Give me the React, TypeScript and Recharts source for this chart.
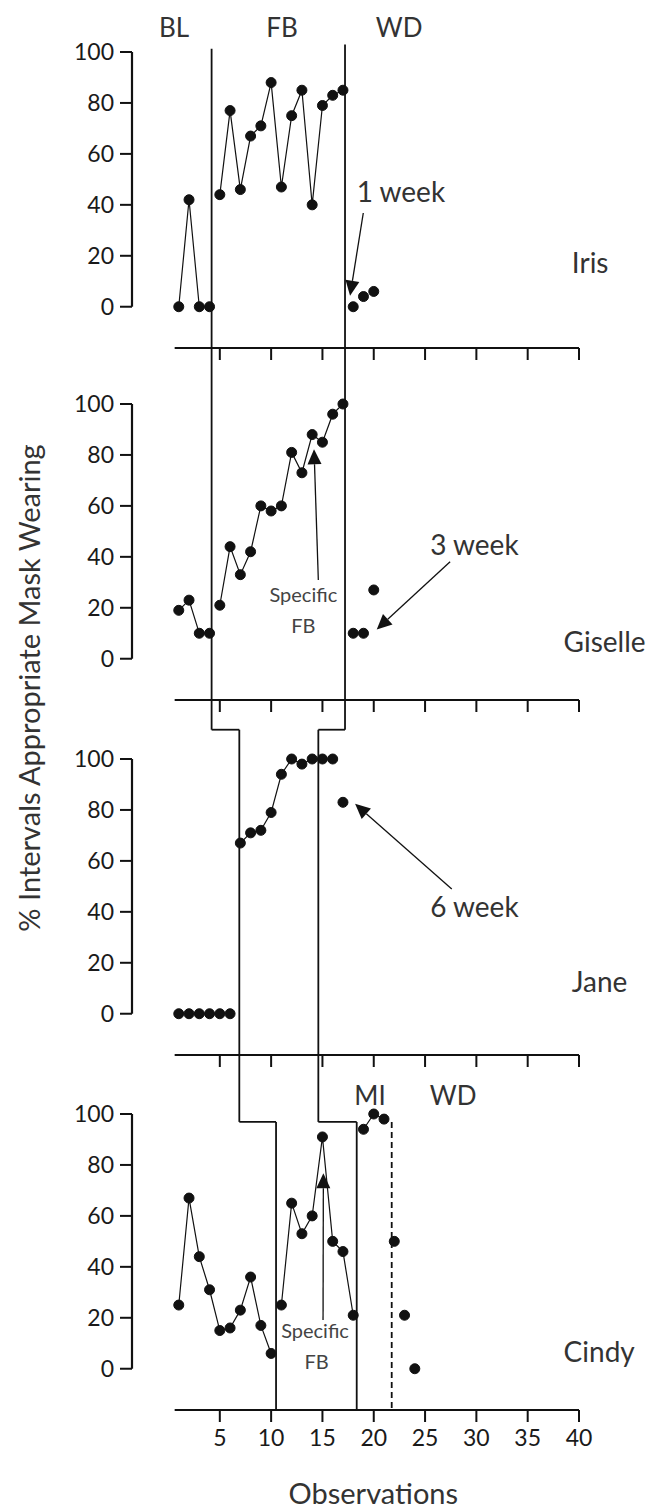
import { LineChart, Line, XAxis, YAxis, ReferenceLine, ReferenceDot } from "recharts";

const FONT = "Lato, 'Noto Sans', sans-serif";
const INK = "#111";

// values per phase, first observation number of each phase
const irisBL = [0, 42, 0, 0];
const irisFB = [44, 77, 46, 67, 71, 88, 47, 75, 85, 40, 79, 83, 85];
const irisWD = [0, 4, 6];

const giselleBL = [19, 23, 10, 10];
const giselleFB = [21, 44, 33, 42, 60, 58, 60, 81, 73, 88, 85, 96, 100];
const giselleWD = [10, 10, 27];

const janeBL = [0, 0, 0, 0, 0, 0];
const janeFB = [67, 71, 72, 79, 94, 100, 98, 100, 100, 100];
const janeWD = [83];

const cindyBL = [25, 67, 44, 31, 15, 16, 23, 36, 17, 6];
const cindyFB = [25, 65, 53, 60, 91, 50, 46, 21];
const cindyMI = [94, 100, 98];
const cindyWD = [50, 21, 0];

const xTicks = [5, 10, 15, 20, 25, 30, 35, 40];
const yTicks = [0, 20, 40, 60, 80, 100];

// layout
const W = 652;
const PLOT_LEFT = 132;
const PLOT_W = 447;
const TICK_LEN = 12;
const PLOT_H = 296 + TICK_LEN; // plot includes the x tick marks
const X_MIN = -3.557;
const X_AXIS_START = 0.6;
const Y_MIN = -16.2; // where the x axis line sits
const Y_PER_PX = (100 - Y_MIN) / 296;
const Y_LOW = Y_MIN - TICK_LEN * Y_PER_PX; // bottom of the tick marks
const CUTS = [0, 376, 715, 1072, 1509];
const PLOT_TOP = [52, 404, 759, 1114];

const pts = (vals: number[], first: number) => vals.map((v, i) => ({ obs: first + i, pct: v }));

type Seg = [number, number][];
type Txt = { x: number; y: number; text: string; size: number; anchor?: string; color?: string };
type Arr = { from: [number, number]; to: [number, number] };

function Arrow(p: any) {
  const x1 = Number(p.x1);
  const y1 = Number(p.y1);
  const x2 = Number(p.x2);
  const y2 = Number(p.y2);
  const a = Math.atan2(y2 - y1, x2 - x1);
  const len = 15;
  const half = 7;
  const bx = x2 - len * Math.cos(a);
  const by = y2 - len * Math.sin(a);
  const px = -Math.sin(a) * half;
  const py = Math.cos(a) * half;
  return (
    <g>
      <line x1={x1} y1={y1} x2={bx} y2={by} stroke={INK} strokeWidth={1.3} />
      <polygon points={`${x2},${y2} ${bx + px},${by + py} ${bx - px},${by - py}`} fill={INK} />
    </g>
  );
}

function Panel(props: {
  i: number;
  series: { data: { obs: number; pct: number }[]; joined: boolean }[];
  phases: (top: number, bot: number) => { pts: Seg; dashed?: boolean }[];
  texts: Txt[];
  arrows: Arr[];
  bottomAxis?: boolean;
}) {
  const { i, series, phases, texts, arrows, bottomAxis } = props;
  const h = CUTS[i + 1] - CUTS[i];
  const mt = PLOT_TOP[i] - CUTS[i];
  const xh = bottomAxis ? 50 : 0;
  const mb = h - mt - PLOT_H - xh;
  const topEdge = 100 + mt * Y_PER_PX;
  const botEdge = Y_LOW - (h - mt - PLOT_H) * Y_PER_PX;

  const segs: { a: [number, number]; b: [number, number]; dashed?: boolean }[] = [];
  phases(topEdge, botEdge).forEach((p) => {
    for (let k = 0; k < p.pts.length - 1; k++) segs.push({ a: p.pts[k], b: p.pts[k + 1], dashed: p.dashed });
  });

  return (
    <div style={{ position: "absolute", left: 0, top: CUTS[i] }}>
      <LineChart width={W} height={h} margin={{ top: mt, right: W - PLOT_LEFT - PLOT_W, bottom: mb, left: PLOT_LEFT - 60 }}>
        <XAxis
          type="number"
          dataKey="obs"
          domain={[X_MIN, 40]}
          ticks={xTicks}
          interval={0}
          hide={!bottomAxis}
          axisLine={false}
          tickLine={false}
          tickSize={0}
          tickMargin={8}
          height={xh}
          tick={{ fontSize: 23, fill: "#1a1a1a", fontFamily: FONT }}
        />
        <YAxis
          type="number"
          dataKey="pct"
          domain={[Y_LOW, 100]}
          ticks={yTicks}
          interval={0}
          axisLine={false}
          tickLine={{ stroke: INK, strokeWidth: 2 }}
          tickSize={TICK_LEN}
          tickMargin={6}
          width={60}
          tick={{ fontSize: 23, fill: "#1a1a1a", fontFamily: FONT }}
        />
        <ReferenceLine segment={[{ x: X_MIN, y: 0 }, { x: X_MIN, y: 100 }]} stroke={INK} strokeWidth={2.2} ifOverflow="visible" />
        <ReferenceLine segment={[{ x: X_AXIS_START, y: Y_MIN }, { x: 40, y: Y_MIN }]} stroke={INK} strokeWidth={2.2} ifOverflow="visible" />
        {xTicks.map((t) => (
          <ReferenceLine
            key={"x" + t}
            segment={[{ x: t, y: Y_MIN }, { x: t, y: Y_LOW }]}
            stroke={INK}
            strokeWidth={2}
            ifOverflow="visible"
          />
        ))}
        {segs.map((s, k) => (
          <ReferenceLine
            key={"s" + k}
            segment={[{ x: s.a[0], y: s.a[1] }, { x: s.b[0], y: s.b[1] }]}
            stroke={INK}
            strokeWidth={1.8}
            strokeDasharray={s.dashed ? "6 4" : undefined}
            ifOverflow="visible"
          />
        ))}
        {series.map((s, k) => (
          <Line
            key={"l" + k}
            data={s.data}
            dataKey="pct"
            type="linear"
            stroke={s.joined ? INK : "none"}
            strokeWidth={1.2}
            dot={{ r: 5, fill: INK, stroke: INK, strokeWidth: 1 }}
            isAnimationActive={false}
          />
        ))}
        {arrows.map((a, k) => (
          <ReferenceLine
            key={"a" + k}
            segment={[{ x: a.from[0], y: a.from[1] }, { x: a.to[0], y: a.to[1] }]}
            ifOverflow="visible"
            shape={Arrow}
          />
        ))}
        {texts.map((t, k) => (
          <ReferenceDot
            key={"t" + k}
            x={t.x}
            y={t.y}
            ifOverflow="visible"
            shape={(p: any) => (
              <text x={p.cx} y={p.cy} textAnchor={t.anchor || "start"} fontSize={t.size} fill={t.color || "#333"} fontFamily={FONT}>
                {t.text}
              </text>
            )}
          />
        ))}
      </LineChart>
    </div>
  );
}

export default function App() {
  return (
    <div style={{ position: "absolute", left: 0, top: 0, width: W, height: 1509, background: "#fff", fontFamily: FONT }}>
      <Panel
        i={0}
        series={[
          { data: pts(irisBL, 1), joined: true },
          { data: pts(irisFB, 5), joined: true },
          { data: pts(irisWD, 18), joined: false },
        ]}
        phases={(top, bot) => [
          { pts: [[4.2, 101.3], [4.2, bot]] },
          { pts: [[17.2, 102.9], [17.2, bot]] },
        ]}
        texts={[
          { x: 0.54, y: 106, text: "BL", size: 26, anchor: "middle" },
          { x: 11.06, y: 106, text: "FB", size: 26, anchor: "middle" },
          { x: 22.47, y: 106, text: "WD", size: 26, anchor: "middle" },
          { x: 18.34, y: 41.3, text: "1 week", size: 28 },
          { x: 39.3, y: 13.2, text: "Iris", size: 28 },
        ]}
        arrows={[{ from: [18.98, 36.8], to: [17.69, 4.3] }]}
      />
      <Panel
        i={1}
        series={[
          { data: pts(giselleBL, 1), joined: true },
          { data: pts(giselleFB, 5), joined: true },
          { data: pts(giselleWD, 18), joined: false },
        ]}
        phases={(top, bot) => [
          { pts: [[4.2, top], [4.2, bot]] },
          { pts: [[17.2, top], [17.2, bot]] },
        ]}
        texts={[
          { x: 25.5, y: 40.7, text: "3 week", size: 28 },
          { x: 13.14, y: 22.3, text: "Specific", size: 20, anchor: "middle", color: "#444" },
          { x: 13.14, y: 10, text: "FB", size: 20, anchor: "middle", color: "#444" },
          { x: 38.5, y: 2.7, text: "Giselle", size: 28 },
        ]}
        arrows={[
          { from: [27.44, 38.1], to: [20.29, 11.5] },
          { from: [14.6, 30.9], to: [14.18, 82.2] },
        ]}
      />
      <Panel
        i={2}
        series={[
          { data: pts(janeBL, 1), joined: true },
          { data: pts(janeFB, 7), joined: true },
          { data: pts(janeWD, 17), joined: false },
        ]}
        phases={(top, bot) => [
          { pts: [[4.2, top], [4.2, 111.5], [6.9, 111.5], [6.9, bot]] },
          { pts: [[17.2, top], [17.2, 111.5], [14.6, 111.5], [14.6, bot]] },
        ]}
        texts={[
          { x: 25.5, y: 38, text: "6 week", size: 28 },
          { x: 39.3, y: 8.4, text: "Jane", size: 28 },
        ]}
        arrows={[{ from: [27.6, 49], to: [18.18, 82.4] }]}
      />
      <Panel
        i={3}
        bottomAxis
        series={[
          { data: pts(cindyBL, 1), joined: true },
          { data: pts(cindyFB, 11), joined: true },
          { data: pts(cindyMI, 19), joined: true },
          { data: pts(cindyWD, 22), joined: false },
        ]}
        phases={(top) => [
          { pts: [[6.9, top], [6.9, 96.9], [10.48, 96.9], [10.48, Y_MIN]] },
          { pts: [[14.6, top], [14.6, 96.9], [18.34, 96.9], [18.34, Y_MIN]] },
          { pts: [[21.75, 96.9], [21.75, Y_MIN]], dashed: true },
        ]}
        texts={[
          { x: 19.64, y: 103.5, text: "MI", size: 26, anchor: "middle" },
          { x: 27.73, y: 103.5, text: "WD", size: 26, anchor: "middle" },
          { x: 14.28, y: 12.2, text: "Specific", size: 20, anchor: "middle", color: "#444" },
          { x: 14.43, y: -0.3, text: "FB", size: 20, anchor: "middle", color: "#444" },
          { x: 38.5, y: 2.6, text: "Cindy", size: 28 },
          { x: 19.96, y: -53.1, text: "Observations", size: 29, anchor: "middle" },
        ]}
        arrows={[{ from: [15.06, 19.1], to: [15.09, 76.7] }]}
      />
      <svg width={60} height={1509} style={{ position: "absolute", left: 0, top: 0 }}>
        <text x={40} y={688} textAnchor="middle" fontSize={29} fill="#333" fontFamily={FONT} transform="rotate(-90, 40, 688)">
          % Intervals Appropriate Mask Wearing
        </text>
      </svg>
    </div>
  );
}
